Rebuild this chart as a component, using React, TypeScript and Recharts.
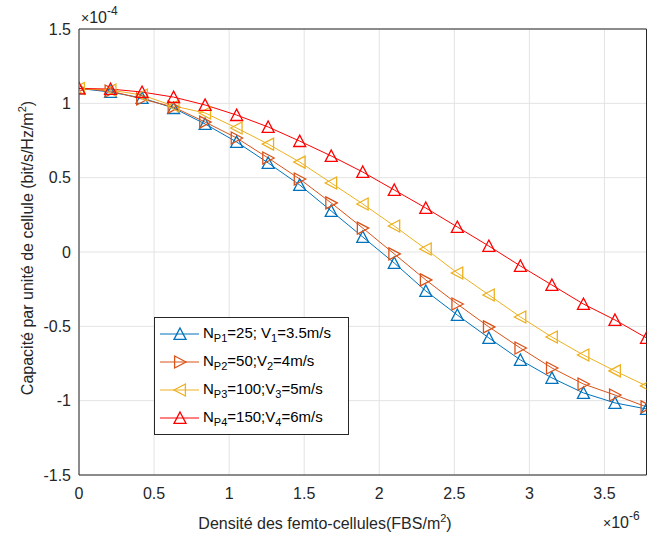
import { LineChart, Line, XAxis, YAxis, CartesianGrid, Legend, Label } from 'recharts';

// femto-cell density (x 1e-6 FBS/m^2)
const density = [0, 0.21, 0.42, 0.63, 0.84, 1.05, 1.26, 1.47, 1.68, 1.89, 2.1, 2.31, 2.52, 2.73, 2.94, 3.15, 3.36, 3.57, 3.78];

// capacity per cell unit (x 1e-4 bit/s/Hz/m^2)
const np1 = [1.1, 1.076, 1.036, 0.968, 0.861, 0.74, 0.599, 0.451, 0.276, 0.101, -0.074, -0.262, -0.424, -0.578, -0.726, -0.847, -0.948, -1.015, -1.056];
const np2 = [1.1, 1.083, 1.029, 0.975, 0.874, 0.767, 0.632, 0.491, 0.33, 0.161, -0.013, -0.188, -0.35, -0.504, -0.646, -0.78, -0.888, -0.962, -1.042];
const np3 = [1.1, 1.089, 1.056, 0.982, 0.935, 0.834, 0.726, 0.605, 0.464, 0.323, 0.175, 0.02, -0.141, -0.289, -0.437, -0.572, -0.693, -0.8, -0.901];
const np4 = [1.1, 1.096, 1.076, 1.042, 0.989, 0.921, 0.841, 0.746, 0.646, 0.538, 0.417, 0.296, 0.168, 0.04, -0.094, -0.222, -0.35, -0.457, -0.578];

const xTicks = [0, 0.5, 1, 1.5, 2, 2.5, 3, 3.5];
const yTicks = [-1.5, -1, -0.5, 0, 0.5, 1, 1.5];
const xDomain = [0, 3.78];
const yDomain = [-1.5, 1.5];

type Marker = 'up' | 'right' | 'left';

const series: { key: string; values: number[]; color: string; marker: Marker; p: string; n: string; v: string; speed: string }[] = [
  { key: 'np1', values: np1, color: '#0072BD', marker: 'up', p: 'P1', n: '=25; V', v: '1', speed: '=3.5m/s' },
  { key: 'np2', values: np2, color: '#D95319', marker: 'right', p: 'P2', n: '=50;V', v: '2', speed: '=4m/s' },
  { key: 'np3', values: np3, color: '#EDB120', marker: 'left', p: 'P3', n: '=100;V', v: '3', speed: '=5m/s' },
  { key: 'np4', values: np4, color: '#FF0000', marker: 'up', p: 'P4', n: '=150;V', v: '4', speed: '=6m/s' },
];

const data = density.map((x, i) => {
  const row: Record<string, number> = { x };
  series.forEach((s) => (row[s.key] = s.values[i]));
  return row;
});

const FONT = '"Liberation Sans", Arial, Helvetica, sans-serif';
const INK = '#262626';

function triangle(kind: Marker, cx: number, cy: number, s = 6) {
  const h = s * 0.9;
  if (kind === 'up') return `M${cx},${cy - s}L${cx + s},${cy + h}L${cx - s},${cy + h}Z`;
  if (kind === 'right') return `M${cx + s},${cy}L${cx - h},${cy - s}L${cx - h},${cy + s}Z`;
  return `M${cx - s},${cy}L${cx + h},${cy - s}L${cx + h},${cy + s}Z`;
}

const markerDot = (kind: Marker, color: string) => (props: any) => {
  const { cx, cy, index } = props;
  if (cx == null || cy == null) return <g key={`m-${index}`} />;
  return <path key={`m-${index}`} d={triangle(kind, cx, cy)} fill="none" stroke={color} strokeWidth={1.3} />;
};

const renderLegend = () => (
  <div
    style={{
      width: 195,
      height: 118,
      border: `1px solid ${INK}`,
      background: '#fff',
      fontFamily: FONT,
      fontSize: 15,
      color: '#000',
      boxSizing: 'border-box',
      paddingTop: 2,
    }}
  >
    {series.map((s) => (
      <div key={s.key} style={{ display: 'flex', alignItems: 'center', height: 28 }}>
        <svg width={48} height={20} style={{ flex: 'none' }}>
          <line x1={5} y1={10} x2={44} y2={10} stroke={s.color} strokeWidth={1} />
          <path d={triangle(s.marker, 25, 10)} fill="none" stroke={s.color} strokeWidth={1.3} />
        </svg>
        <span style={{ whiteSpace: 'nowrap' }}>
          N<sub style={{ fontSize: 11 }}>{s.p}</sub>
          {s.n}
          <sub style={{ fontSize: 11 }}>{s.v}</sub>
          {s.speed}
        </span>
      </div>
    ))}
  </div>
);

const xTitle = () => (
  <g fontFamily={FONT} fill={INK}>
    <text x={325} y={529} textAnchor="middle" fontSize={16}>
      Densité des femto-cellules(FBS/m<tspan dy={-7} fontSize={11}>2</tspan>
      <tspan dy={7}>)</tspan>
    </text>
    <text x={603} y={528} fontSize={16}>
      <tspan fontSize={14}>×</tspan>10<tspan dy={-8} fontSize={12}>-6</tspan>
    </text>
  </g>
);

const yTitle = () => (
  <g fontFamily={FONT} fill={INK}>
    <text transform="translate(33,248) rotate(-90)" textAnchor="middle" fontSize={16}>
      Capacité par unité de cellule (bit/s/Hz/m<tspan dy={-7} fontSize={11}>2</tspan>
      <tspan dy={7}>)</tspan>
    </text>
    <text x={81} y={23} fontSize={16}>
      <tspan fontSize={14}>×</tspan>10<tspan dy={-8} fontSize={12}>-4</tspan>
    </text>
  </g>
);

export default function App() {
  return (
    <div style={{ position: 'absolute', left: 0, top: 0, width: 647, height: 537, background: '#fff' }}>
      <LineChart width={647} height={537} data={data} margin={{ top: 29, right: 0.5, bottom: 0, left: 0 }}>
        <CartesianGrid stroke="#e3e3e3" strokeWidth={1} horizontalValues={yTicks} verticalValues={xTicks} />
        <XAxis
          dataKey="x"
          type="number"
          domain={xDomain}
          ticks={xTicks}
          allowDataOverflow
          height={62}
          tickLine={false}
          tickSize={0}
          tickMargin={13}
          axisLine={{ stroke: INK }}
          tick={{ fill: INK, fontSize: 16, fontFamily: FONT }}
        >
          <Label content={xTitle} />
        </XAxis>
        <XAxis
          xAxisId="bottomTicks"
          dataKey="x"
          type="number"
          domain={xDomain}
          ticks={xTicks}
          allowDataOverflow
          mirror
          tick={false}
          tickSize={6}
          tickLine={{ stroke: INK }}
          axisLine={false}
        />
        <XAxis
          xAxisId="top"
          orientation="top"
          dataKey="x"
          type="number"
          domain={xDomain}
          ticks={xTicks}
          allowDataOverflow
          mirror
          tick={false}
          tickSize={6}
          tickLine={{ stroke: INK }}
          axisLine={{ stroke: INK }}
        />
        <YAxis
          type="number"
          domain={yDomain}
          ticks={yTicks}
          allowDataOverflow
          width={79}
          tickLine={false}
          tickSize={0}
          tickMargin={8}
          axisLine={{ stroke: INK }}
          tick={{ fill: INK, fontSize: 16, fontFamily: FONT }}
          tickFormatter={(v: number) => String(v)}
        >
          <Label content={yTitle} />
        </YAxis>
        <YAxis
          yAxisId="leftTicks"
          type="number"
          domain={yDomain}
          ticks={yTicks}
          allowDataOverflow
          mirror
          tick={false}
          tickSize={6}
          tickLine={{ stroke: INK }}
          axisLine={false}
        />
        <YAxis
          yAxisId="right"
          orientation="right"
          type="number"
          domain={yDomain}
          ticks={yTicks}
          allowDataOverflow
          mirror
          tick={false}
          tickSize={6}
          tickLine={{ stroke: INK }}
          axisLine={{ stroke: INK }}
        />
        {series.map((s) => (
          <Line
            key={s.key}
            dataKey={s.key}
            type="linear"
            stroke={s.color}
            strokeWidth={1}
            dot={markerDot(s.marker, s.color)}
            activeDot={false}
            isAnimationActive={false}
          />
        ))}
        <Legend
          layout="horizontal"
          verticalAlign="middle"
          align="center"
          content={renderLegend}
          wrapperStyle={{ position: 'absolute', left: 154, top: 317, width: 195, height: 118 }}
        />
      </LineChart>
    </div>
  );
}
